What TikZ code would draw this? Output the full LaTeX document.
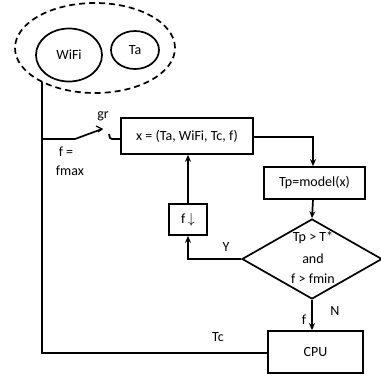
\documentclass[tikz,border=0pt]{standalone}
\usepackage{fontspec}
\setmainfont{Carlito}
\usetikzlibrary{arrows.meta,shapes.geometric}
\begin{document}
\begin{tikzpicture}[x=1pt,y=-1pt,line width=1.7pt,
  box/.style={draw,rectangle,inner sep=0pt},
  lbl/.style={inner sep=0pt,font=\fontsize{14}{16}\selectfont},
  arr/.style={-{Stealth[length=7pt,width=6pt]}},
  font=\fontsize{14}{16}\selectfont]
\useasboundingbox (0,0) rectangle (381,381);
\node[draw,dashed,ellipse,minimum width=160,minimum height=90,dash pattern=on 6pt off 4pt] (grp) at (95,48) {};
\node[draw,ellipse,minimum width=66,minimum height=53,inner sep=0pt] (wifi) at (69,55) {WiFi};
\node[draw,ellipse,minimum width=48,minimum height=38,inner sep=0pt] (ta) at (135,50) {Ta};
\node[box,minimum width=132,minimum height=36] (x) at (187,136) {x = (Ta, WiFi, Tc, f)};
\node[box,minimum width=101,minimum height=32] (tp) at (314.5,183) {Tp=model(x)};
\node[draw,diamond,aspect=1.75,minimum width=140,minimum height=80,inner sep=0pt] (dec) at (312,259) {};
\node[lbl] at (313,238) {Tp > T*};
\node[lbl] at (313,259) {and};
\node[lbl] at (313,279) {f > fmin};
\node[box,minimum width=38,minimum height=31] (fd) at (188,219.5) {f\,$\downarrow$};
\node[box,minimum width=95,minimum height=42] (cpu) at (315.5,352) {CPU};
\coordinate (w) at (42,82);
\coordinate (sa) at (75,139);
\coordinate (sb) at (102,129);
\coordinate (sc) at (109,134);
\coordinate (sd) at (112,139);
% switch
\draw (cpu.west |- 0,353) -- (42,353) -- (w);
\draw (42,139) -- (sa) -- (sb);
\draw[line width=1.2pt] (sb) ++(-6,-3) -- (sb) -- ++(-4,3);
\draw (sc) -- ++(1,4) -- (sd) -- (x.west |- sd);
\node[lbl] at (103,116) {gr};
\node[lbl] at (66,152) {f =};
\node[lbl] at (70,171) {fmax};
\draw[arr] (x.east |- 0,137) -- (313,137) -- (tp.north -| 313,0);
\draw[arr] (tp.south -| 313,0) -- (dec.north);
\draw[arr] (dec.west) -- (188,259) -- (fd.south);
\draw[arr] (fd.north) -- (x.south -| fd.north);
\draw[arr] (dec.south) -- (cpu.north -| dec.south);
\node[lbl] at (226,247) {Y};
\node[lbl] at (335,311) {N};
\node[lbl] at (304,320) {f};
\node[lbl] at (218,337) {Tc};
\end{tikzpicture}
\end{document}
